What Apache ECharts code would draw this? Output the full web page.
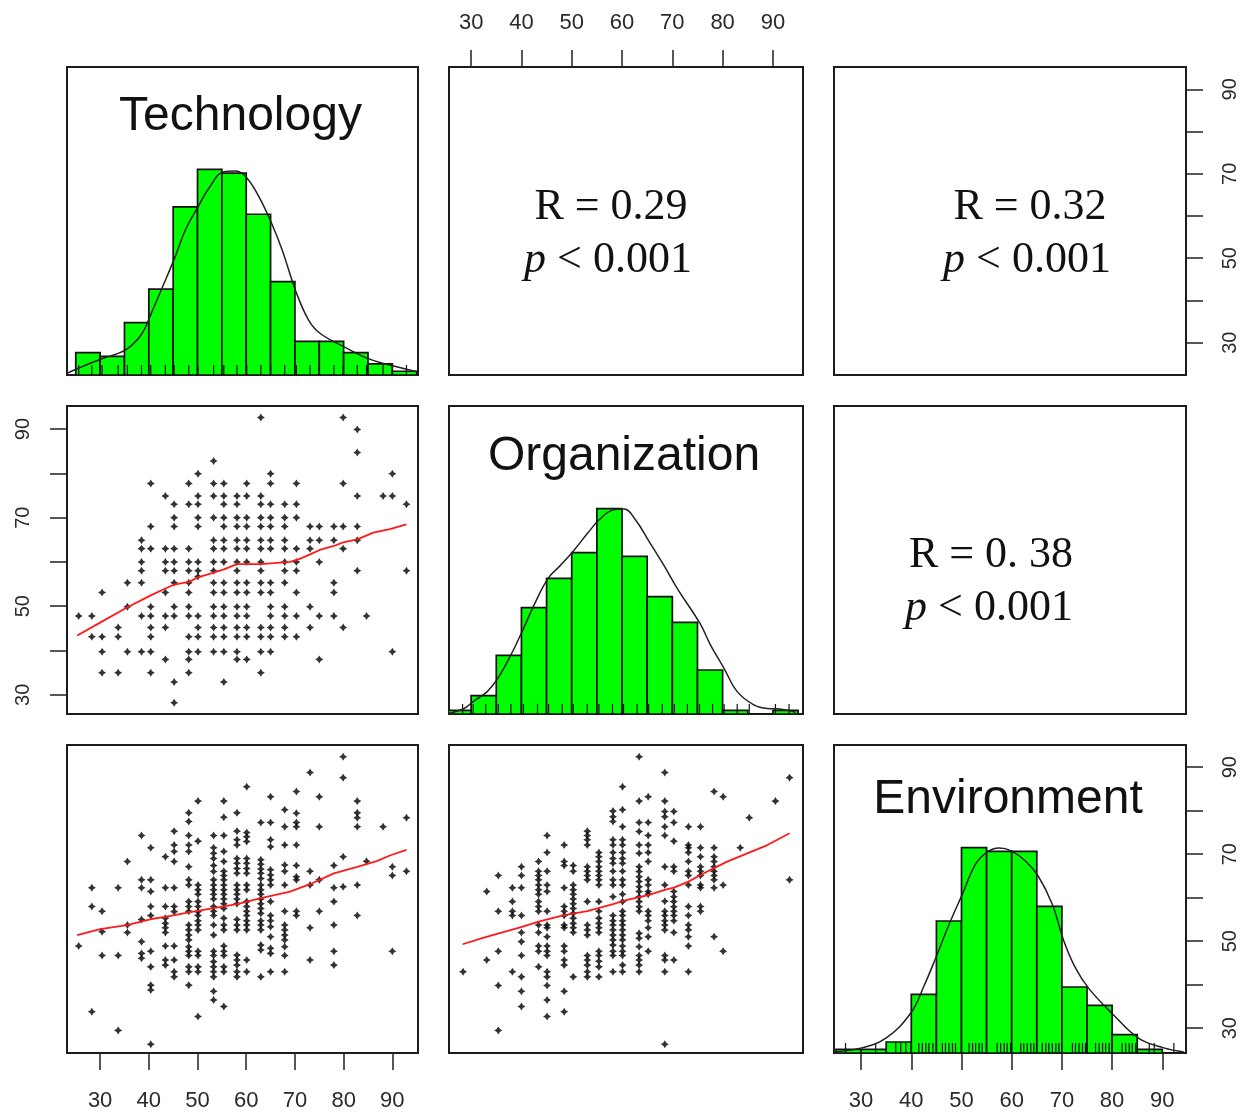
<!DOCTYPE html>
<html><head><meta charset="utf-8">
<script src="https://cdn.jsdelivr.net/npm/echarts@6/dist/echarts.min.js"></script>
<style>html,body{margin:0;padding:0;background:#fff}#c{width:1250px;height:1114px}</style>
</head><body><div id="c"></div>
<script>
// ================= DATA =================
const variables = ['Technology', 'Organization', 'Environment'];
const corrR = ['R = 0.29', 'R = 0.32', 'R = 0. 38'];
const corrP = ['0.001', '0.001', '0.001'];
const xTicks = [30, 40, 50, 60, 70, 80, 90];
const yTicks = [30, 40, 50, 60, 70, 80, 90];
const yTickLabels = [30, 50, 70, 90];

const binEdges = [25, 30, 35, 40, 45, 50, 55, 60, 65, 70, 75, 80, 85, 90, 95];
const histTech = [6, 5, 14, 23, 45, 55, 54, 43, 25, 9, 9, 6, 3, 1];
const histOrg  = [1, 5, 16, 29, 37, 44, 56, 43, 32, 25, 12, 1, 0, 1];
const histEnv  = [1, 1, 3, 16, 36, 56, 55, 55, 40, 18, 13, 5, 1, 0];

const densTech = [[23.2,0.45],[25.5,1.8],[30.5,4.4],[33.1,5.5],[35.7,7.1],[38.6,11.1],[40.5,16.5],[42.7,23.2],[45.4,31.6],[47.5,38.8],[50.1,45.0],[52.3,49.9],[55.4,54.4],[57.8,54.6],[60.2,52.6],[62.6,47.7],[65.2,40.6],[67.4,33.4],[70.1,22.7],[72.8,14.7],[75.2,11.1],[80.0,7.6],[84.8,4.5],[88.2,3.1],[95.1,0.9]];
const densOrg = [[25.6,0.2],[28.6,1.5],[30.4,3.4],[33.2,6.1],[35.3,9.7],[37.9,16.1],[40.4,23.3],[42.5,29.7],[45.3,37.0],[47.8,40.6],[50.3,44.4],[53.1,49.2],[55.4,52.9],[58.1,55.6],[60.4,55.9],[62.7,52.9],[65.4,47.0],[68.3,40.6],[71.0,34.2],[75.5,24.7],[77.6,18.8],[80.3,12.4],[82.9,6.1],[86.2,2.5],[88.9,1.5],[90.9,1.4],[94.5,0.5]];
const densEnv = [[24.6,0.3],[30.1,1.4],[35.0,4.1],[39.9,10.9],[42.5,18.2],[45.0,26.4],[47.5,35.0],[50.2,43.4],[52.8,51.5],[55.1,54.8],[57.5,55.9],[59.8,55.2],[62.8,52.3],[65.3,48.2],[68.1,40.5],[70.4,30.5],[72.7,23.2],[75.3,17.7],[80.2,10.5],[85.4,3.9],[90.3,1.4],[94.3,0.3]];

const rugTech = [25.6,28.3,30.4,33.7,35.6,38.5,40.4,43.4,45.2,48.2,50.1,53.3,55.4,58.1,60.1,63.0,65.0,67.9,70.3,73.1,75.0,78.0,79.9,82.8,84.7,88.1,90.0,92.9];
const rugOrg = [28.3,30.4,32.9,35.4,37.9,40.4,43.2,45.4,48.1,50.3,53.1,55.4,58.1,60.3,63.0,65.3,68.0,70.4,73.0,75.4,78.0,80.3,82.9,85.3,90.5,93.2];
const rugEnv = [26.9,32.9,36.9,37.9,38.9,41.5,42.2,42.9,43.5,44.3,46.2,46.8,47.5,48.2,48.8,51.5,52.2,52.8,53.5,54.1,57.1,57.8,58.5,59.1,59.8,61.8,62.4,63.1,63.8,64.4,66.1,66.8,67.4,68.1,68.8,69.4,72.1,72.7,73.4,74.1,74.7,76.7,77.4,78.1,78.7,79.4,82.0,82.7,83.4,84.0,84.7,87.4,88.4,92.3];

// x = Technology, y = Organization
const techVsOrg = [
[25.6,[47.8]],[28.3,[47.8,43.1]],[30.4,[53.1,43.1,39.7,35.0]],[33.7,[45.2,43.1,35.0]],[35.6,[55.3,49.9,39.7]],
[38.5,[64.9,63.0,60.0,58.0,55.3,47.8,39.7]],
[40.4,[77.7,68.0,63.0,49.9,47.8,45.2,43.1,39.7,35.0]],
[43.4,[74.9,63.0,60.0,58.0,53.1,47.8,45.2,38.0]],
[45.2,[73.0,70.0,68.0,63.0,60.0,58.0,55.3,49.9,47.8,32.9,28.2]],
[48.2,[77.7,73.0,63.0,60.0,58.0,55.3,53.1,49.9,47.8,43.1,39.7,38.0,35.0]],
[50.1,[79.9,74.9,73.0,70.0,68.0,60.0,58.0,56.7,47.8,45.2,43.1,39.7]],
[53.3,[82.8,77.7,74.9,70.0,64.9,63.0,60.0,58.0,55.3,53.1,49.9,47.8,45.2,43.1,39.7]],
[55.4,[77.7,74.9,73.0,70.0,68.0,64.9,63.0,60.0,55.3,53.1,49.9,47.8,45.2,43.1,39.7,32.9]],
[58.1,[74.9,73.0,70.0,68.0,64.9,63.0,60.0,58.0,55.3,53.1,49.9,47.8,45.2,43.1,39.7,38.0]],
[60.1,[77.7,74.9,70.0,68.0,64.9,63.0,60.0,55.3,53.1,49.9,47.8,45.2,43.1,38.0]],
[63.0,[92.6,74.9,73.0,70.0,68.0,64.9,63.0,60.0,58.0,55.3,53.1,45.2,43.1,39.7,35.0]],
[65.0,[79.9,77.7,73.0,70.0,68.0,64.9,63.0,55.3,53.1,49.9,47.8,45.2,43.1,39.7]],
[67.9,[73.0,70.0,68.0,64.9,63.0,60.0,58.0,55.3,49.9,47.8,45.2,43.1]],
[70.3,[77.7,73.0,70.0,63.0,60.0,58.0,53.1,47.8,43.1]],
[73.1,[68.0,64.9,63.0,49.9,45.2]],[75.0,[68.0,64.9,60.0,47.8,38.0]],[78.0,[68.0,64.9,55.3,53.1,47.8]],
[79.9,[92.6,77.7,68.0,63.0,45.2]],[82.8,[89.9,84.7,74.9,68.0,64.9,58.0]],[84.7,[47.8]],[88.1,[74.9]],
[90.0,[79.9,74.9,39.7]],[92.9,[73.0,58.0]]
];

// x = Technology, y = Environment
const techVsEnv = [
[25.6,[48.9]],[28.3,[62.3,58.0,33.8]],[30.4,[56.9,52.2,46.7]],[33.7,[62.3,46.7,29.5]],[35.6,[68.3,53.7,52.0]],
[38.5,[74.3,64.1,62.3,55.0,49.9,47.2,46.1]],
[40.4,[71.5,64.1,61.4,58.0,55.9,47.7,44.1,39.9,38.8,26.3]],
[43.4,[69.4,62.3,58.0,55.3,54.1,53.1,52.0,48.9,45.7,44.5]],
[45.2,[75.3,72.1,70.6,68.3,62.3,58.0,56.8,48.9,45.7,43.0,41.8]],
[48.2,[79.5,77.5,74.3,72.1,70.6,67.1,64.1,62.9,59.1,58.0,56.9,53.7,52.6,51.4,50.3,48.7,47.7,46.7,44.1,43.0,39.9]],
[50.1,[82.2,73.0,62.9,61.8,60.8,59.1,58.0,56.8,55.9,54.7,53.7,52.6,47.7,46.7,44.1,43.0,32.7]],
[53.3,[74.3,71.5,70.2,69.0,67.4,66.0,64.1,62.9,61.8,60.8,59.7,58.0,56.9,55.9,53.7,51.4,47.7,46.7,45.3,44.1,43.0,41.8,38.5,36.5]],
[55.4,[82.2,78.5,74.3,70.6,68.3,66.1,65.1,64.1,62.9,61.8,60.8,59.7,58.6,57.5,55.3,53.7,52.6,48.9,47.7,46.7,44.1,43.0,35.0]],
[58.1,[79.5,75.3,73.3,72.1,69.0,67.9,66.7,65.6,62.9,61.8,60.8,59.7,58.6,55.0,53.7,52.6,46.8,45.7,44.5,43.0,41.8]],
[60.1,[85.5,75.0,74.0,72.9,69.0,67.9,66.7,65.6,62.9,61.8,59.1,58.0,56.9,55.9,54.7,53.7,52.6,45.7,43.0]],
[63.0,[77.3,68.7,67.7,66.6,65.6,64.4,62.9,61.8,60.8,59.7,58.6,57.5,56.4,54.7,53.7,52.6,49.1,48.0,41.8]],
[65.0,[83.2,77.3,73.3,71.7,66.4,65.2,64.1,62.9,59.1,55.9,54.7,53.3,51.0,48.4,47.2,43.0]],
[67.9,[80.2,76.3,72.1,67.5,66.1,62.9,56.9,53.7,52.6,51.4,50.3,48.7,46.7,43.0]],
[70.3,[84.4,79.4,77.3,76.3,72.1,67.4,64.8,64.1,56.9,55.9]],
[73.1,[88.8,66.1,62.9,53.1,45.7]],[75.0,[83.2,76.3,64.1,56.9]],[78.0,[67.4,62.3,59.1,53.7,47.7,44.5]],
[79.9,[92.4,87.6,69.4,62.5]],[82.8,[82.2,79.5,78.4,76.3,62.9,55.9]],[84.7,[68.4]],[88.1,[76.3]],
[90.0,[67.1,65.1,47.7]],[92.9,[78.4,66.1]]
];

// x = Organization, y = Environment
const orgVsEnv = [
[28.4,[43.0]],[33.1,[61.4,45.7]],[35.4,[65.1,56.9,47.7,39.8,29.5]],[38.2,[62.3,59.1,56.9,55.9,43.0]],
[40.0,[67.1,65.1,62.3,55.9,52.0,49.9,46.7,41.8,38.5,35.0]],
[43.4,[68.3,66.1,65.1,64.1,62.9,61.8,60.8,59.1,58.0,56.9,53.7,52.0,48.9,47.7,44.1]],
[45.1,[74.3,70.4,66.1,62.9,61.4,56.9,53.7,53.1,51.0,48.9,47.7,46.7,43.0,41.8,39.8,36.5,32.7]],
[48.5,[72.1,68.3,67.4,62.3,58.0,56.9,55.9,53.7,53.1,48.9,47.7,45.7,44.5,38.5,33.8]],
[50.3,[67.4,66.1,62.9,61.8,60.8,59.7,58.6,57.5,56.4,55.3,54.1,53.1,52.0,41.8]],
[53.1,[75.3,74.3,73.3,72.1,67.1,66.1,65.1,64.1,59.1,53.7,52.6,51.4,46.7,45.7,44.5,43.0,41.8]],
[55.4,[70.4,69.4,68.3,67.1,66.1,65.1,64.1,62.9,59.1,56.9,55.3,54.1,53.1,52.0,47.7,46.7,45.4,44.1,41.8]],
[58.2,[79.9,78.6,77.5,73.3,72.1,70.4,69.0,67.9,66.1,64.1,62.9,60.2,55.9,54.7,53.7,52.6,51.4,50.3,49.1,47.7,46.7,43.0]],
[60.1,[85.5,80.2,76.3,73.3,72.1,70.4,69.0,67.9,66.1,64.1,62.9,60.8,59.1,56.9,55.9,54.7,53.7,52.6,51.4,50.3,48.9,47.7,46.7,44.5,43.0]],
[63.4,[92.4,82.2,77.3,75.2,72.1,70.2,67.1,66.0,64.8,63.7,62.5,61.4,60.2,59.1,57.9,56.9,51.8,50.7,48.7,46.7,45.7,44.5,43.0]],
[65.2,[83.2,77.3,74.3,72.1,70.4,68.3,64.1,62.9,61.4,60.8,56.9,55.9,54.7,53.1,51.0,47.7]],
[68.5,[88.8,82.2,79.8,78.6,76.3,74.3,67.1,62.9,59.2,56.9,55.9,54.7,53.7,52.6,46.7,45.7,43.0,26.3]],
[70.3,[79.8,77.3,73.0,67.1,66.1,61.4,60.2,59.1,57.9,56.9,55.9,54.7,52.0,45.7]],
[73.2,[76.3,72.1,71.5,70.4,68.3,66.1,65.1,62.9,58.0,55.9,53.7,52.6,51.0,48.9,43.0]],
[75.6,[76.3,71.5,69.4,67.1,66.1,65.1,62.9,62.3,58.0,56.9]],
[78.3,[84.4,71.5,69.4,68.3,67.1,66.1,65.1,64.1,62.3,51.0]],
[80.1,[83.2,62.9,47.7]],[83.5,[71.5]],[85.3,[78.4]],[90.5,[82.2]],[93.3,[87.6,64.1]]
];

const loessTechOrg = [[25.3,43.4],[30.0,46.3],[35.5,49.7],[40.5,52.5],[43.4,54.0],[45.2,54.9],[48.2,55.5],[50.1,56.5],[53.3,57.6],[55.4,58.3],[58.1,59.5],[63.0,59.5],[69.0,60.0],[71.0,60.7],[73.1,61.7],[75.1,62.7],[78.0,63.6],[79.9,64.4],[82.8,65.1],[86.1,66.6],[89.5,67.4],[92.9,68.5]];
const loessTechEnv = [[25.3,51.4],[30.0,52.8],[35.5,53.7],[40.5,55.1],[43.4,55.6],[48.2,56.6],[53.3,57.6],[58.1,58.5],[63.0,59.9],[69.0,61.4],[73.1,63.1],[78.0,65.6],[82.8,67.1],[86.8,68.4],[89.5,69.7],[92.9,71.0]];
const loessOrgEnv = [[28.3,49.3],[32.2,50.7],[35.5,51.8],[40.1,53.3],[43.4,54.5],[48.5,56.0],[53.1,56.9],[58.2,58.5],[60.4,59.3],[65.2,60.6],[68.5,61.8],[70.3,62.3],[73.2,63.7],[75.6,65.2],[78.3,66.8],[80.9,68.3],[84.9,70.2],[88.9,72.1],[93.3,74.8]];

// ================= LAYOUT =================
const colLeft = [67, 449, 834], colWidth = [351, 354, 352];
const rowTop = [67, 406, 745], rowH = 308;
const varRangeX = [[23.2, 95.27], [25.6, 95.98], [24.6, 94.72]];
const varRangeY = [[22.35, 95.28], [25.67, 95.2], [24.3, 95.1]];
const histMax = [82.4, 84, 84];

const SANS = 'Liberation Sans', SERIF = 'Liberation Serif';
const STAR = 'path://M5,0 L6.9,3.1 L10,5 L6.9,6.9 L5,10 L3.1,6.9 L0,5 L3.1,3.1 Z';

const grids = [], xAxes = [], yAxes = [], series = [], graphics = [];

function hiddenAxis(g, range) {
  return { gridIndex: g, type: 'value', min: range[0], max: range[1], show: false, splitLine: { show: false } };
}
function shownAxis(g, range, position, tickVals, labelVals, rotate) {
  const isBottom = position === 'bottom';
  return { gridIndex: g, type: 'value', min: range[0], max: range[1], position: position, show: true,
    axisLine: { show: false }, splitLine: { show: false },
    axisTick: { show: true, inside: false, length: 17, customValues: tickVals, lineStyle: { color: '#222', width: 1.5 } },
    axisLabel: { show: true, customValues: labelVals, margin: rotate ? 34 : (isBottom ? 37 : 33), rotate: rotate || 0,
      fontSize: rotate ? 20 : 22, fontFamily: SANS, color: '#2a2a2a' } };
}

for (let r = 0; r < 3; r++) {
  for (let c = 0; c < 3; c++) {
    const g = r * 3 + c;
    grids.push({ left: colLeft[c], top: rowTop[r], width: colWidth[c], height: rowH, show: true,
      borderColor: '#1c1c1c', borderWidth: 2, backgroundColor: '#fff' });
    if (g === 1) xAxes.push(shownAxis(g, varRangeX[c], 'top', xTicks, xTicks));
    else if (g === 6 || g === 8) xAxes.push(shownAxis(g, varRangeX[c], 'bottom', xTicks, xTicks));
    else xAxes.push(hiddenAxis(g, varRangeX[c]));
    if (r === c) yAxes.push(hiddenAxis(g, [0, histMax[r]]));
    else if (g === 2) yAxes.push(shownAxis(g, varRangeY[r], 'right', yTicks, yTickLabels, 90));
    else if (g === 3) yAxes.push(shownAxis(g, varRangeY[r], 'left', yTicks, yTickLabels, 90));
    else yAxes.push(hiddenAxis(g, varRangeY[r]));
  }
}
// extra right axis for Environment on the bottom-right panel
yAxes.push(shownAxis(8, varRangeY[2], 'right', yTicks, yTickLabels, 90));

function flatten(cols) { const out = []; cols.forEach(([x, ys]) => ys.forEach(y => out.push([x, y]))); return out; }

// scatter panels
[[3, techVsOrg, loessTechOrg], [6, techVsEnv, loessTechEnv], [7, orgVsEnv, loessOrgEnv]].forEach(([g, pts, lo]) => {
  series.push({ type: 'scatter', xAxisIndex: g, yAxisIndex: g, data: flatten(pts), symbol: STAR, symbolSize: 8,
    itemStyle: { color: '#000' }, silent: true, z: 3 });
  series.push({ type: 'line', xAxisIndex: g, yAxisIndex: g, data: lo, showSymbol: false, symbol: 'none',
    lineStyle: { color: '#ff1a1a', width: 1.8 }, silent: true, z: 4 });
});

// diagonal histograms
[[0, histTech, densTech, rugTech], [4, histOrg, densOrg, rugOrg], [8, histEnv, densEnv, rugEnv]].forEach(([g, h, d, rug]) => {
  series.push({ type: 'custom', xAxisIndex: g, yAxisIndex: g, clip: true, silent: true, z: 2,
    data: h.map((n, i) => [binEdges[i], binEdges[i + 1], n]),
    encode: { x: [0, 1], y: 2 },
    renderItem: function (params, api) {
      const p0 = api.coord([api.value(0), 0]);
      const p1 = api.coord([api.value(1), api.value(2)]);
      return { type: 'rect', shape: { x: p0[0], y: p1[1], width: p1[0] - p0[0], height: p0[1] - p1[1] },
        style: { fill: '#00ff00', stroke: '#111', lineWidth: 1.7 } };
    } });
  series.push({ type: 'custom', xAxisIndex: g, yAxisIndex: g, clip: true, silent: true, z: 3,
    data: rug.map(v => [v, 0]), encode: { x: 0, y: 1 },
    renderItem: function (params, api) {
      const p = api.coord([api.value(0), 0]);
      return { type: 'line', shape: { x1: p[0], y1: p[1], x2: p[0], y2: p[1] - 10 },
        style: { stroke: '#111', lineWidth: 1.2 } };
    } });
  series.push({ type: 'line', xAxisIndex: g, yAxisIndex: g, data: d, smooth: 0.4, showSymbol: false, symbol: 'none',
    lineStyle: { color: '#222', width: 1.5 }, silent: true, z: 4 });
});

// diagonal variable names
const titleOffsetY = [49.5, 50.5, 54.5];
for (let i = 0; i < 3; i++) {
  graphics.push({ type: 'text', x: colLeft[i] + colWidth[i] / 2 - 2, y: rowTop[i] + titleOffsetY[i], z: 10,
    style: { text: variables[i], fontSize: 48, fontFamily: SANS, fill: '#111',
      align: 'center', verticalAlign: 'middle', textAlign: 'center', textVerticalAlign: 'middle' } });
}
// correlation text in upper panels: [row, col, rOffset(x,y), pOffset(x,y)]
const corrPanels = [[0, 1, 162, 140, 159, 193], [0, 2, 196, 140, 193, 193], [1, 2, 157, 149, 155, 202]];
corrPanels.forEach(([r, c, rx, ry, px, py], k) => {
  graphics.push({ type: 'text', x: colLeft[c] + rx, y: rowTop[r] + ry, z: 10,
    style: { text: corrR[k], fontSize: 44, fontFamily: SERIF, fill: '#111',
      align: 'center', verticalAlign: 'middle', textAlign: 'center', textVerticalAlign: 'middle' } });
  graphics.push({ type: 'text', x: colLeft[c] + px, y: rowTop[r] + py, z: 10,
    style: { text: '{i|p}{n| < ' + corrP[k] + '}', fontSize: 44, fontFamily: SERIF, fill: '#111',
      align: 'center', verticalAlign: 'middle', textAlign: 'center', textVerticalAlign: 'middle',
      rich: { i: { fontStyle: 'italic', fontSize: 44, fontFamily: SERIF, fill: '#111', color: '#111' },
              n: { fontSize: 44, fontFamily: SERIF, fill: '#111', color: '#111' } } } });
});

const chart = echarts.init(document.getElementById('c'), null, { renderer: 'canvas', width: 1250, height: 1114 });
chart.setOption({
  animation: false,
  backgroundColor: '#fff',
  grid: grids,
  xAxis: xAxes,
  yAxis: yAxes,
  series: series,
  graphic: graphics
});
</script>
</body></html>
